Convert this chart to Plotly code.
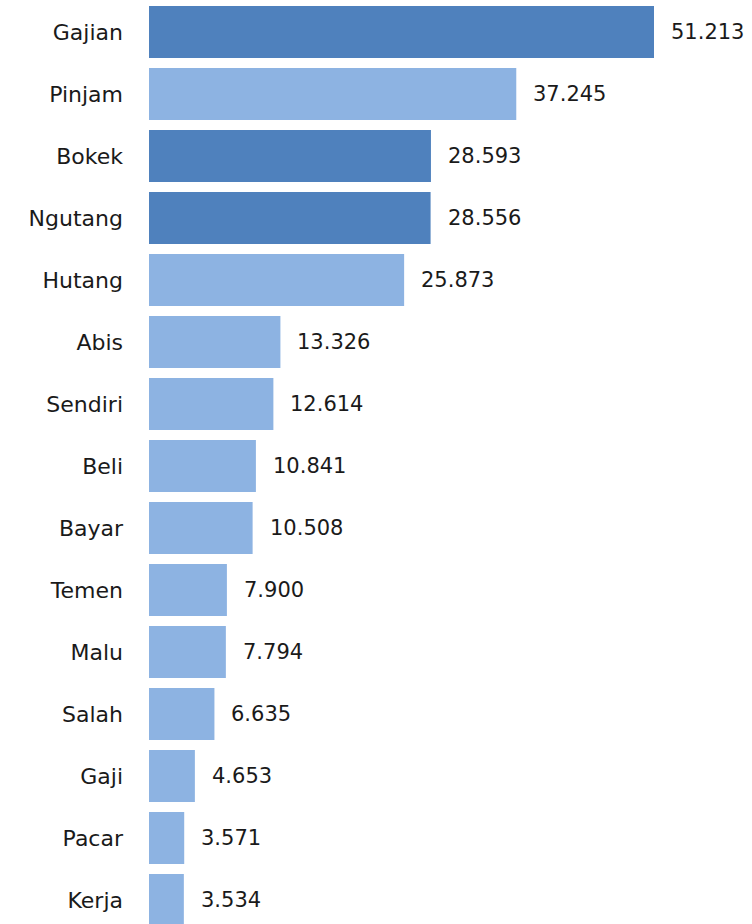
import plotly.graph_objects as go

categories = ["Gajian", "Pinjam", "Bokek", "Ngutang", "Hutang", "Abis", "Sendiri",
              "Beli", "Bayar", "Temen", "Malu", "Salah", "Gaji", "Pacar", "Kerja"]
values = [51213, 37245, 28593, 28556, 25873, 13326, 12614,
          10841, 10508, 7900, 7794, 6635, 4653, 3571, 3534]
highlight = ["Gajian", "Bokek", "Ngutang"]

DARK = "#4F81BD"
LIGHT = "#8DB3E2"
FONT = "DejaVu Sans"

colors = [DARK if c in highlight else LIGHT for c in categories]
labels = [f"{v:,}".replace(",", ".") for v in values]

fig = go.Figure(go.Bar(
    x=values, y=categories, orientation="h",
    marker=dict(color=colors, line=dict(width=0)),
    hoverinfo="skip",
))

for c, v, t in zip(categories, values, labels):
    fig.add_annotation(x=v, y=c, text=t, showarrow=False, xanchor="left",
                       xshift=15, font=dict(family=FONT, size=21, color="#1a1a1a"))

fig.update_layout(
    width=752, height=924,
    margin=dict(l=149, r=0, t=0, b=0),
    paper_bgcolor="white", plot_bgcolor="white",
    bargap=0.161, showlegend=False,
    font=dict(family=FONT, size=21, color="#1a1a1a"),
)
fig.update_xaxes(range=[0, 61151], visible=False, showgrid=False, zeroline=False)
fig.update_yaxes(type="category", categoryorder="array", categoryarray=categories,
                 range=[14.387, -0.516], showgrid=False, zeroline=False, showline=False,
                 ticks="", ticklabelstandoff=25,
                 tickfont=dict(family=FONT, size=22, color="#1a1a1a"))

fig.write_html("out.html")
